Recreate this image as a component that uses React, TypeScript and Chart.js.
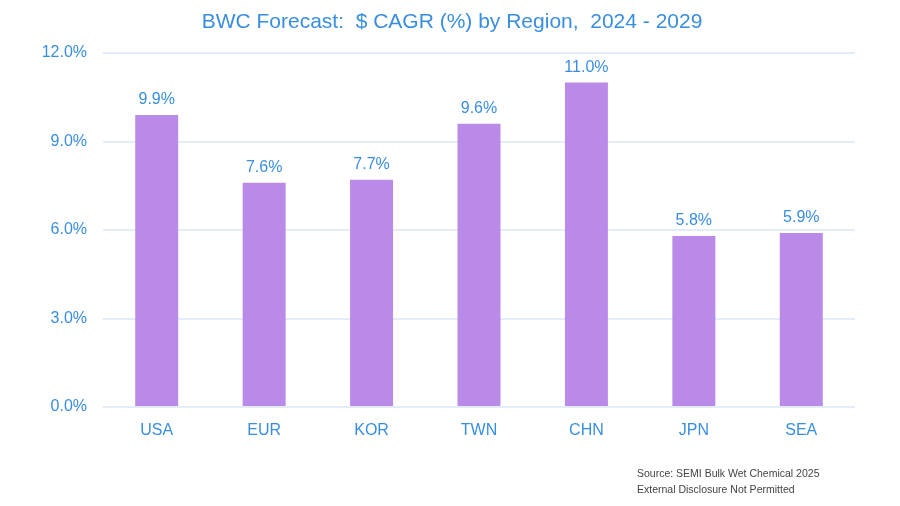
import React, { useEffect, useRef } from "react";
import { Chart, registerables } from "chart.js";

Chart.register(...registerables);

const regions = ["USA", "EUR", "KOR", "TWN", "CHN", "JPN", "SEA"];
const cagr = [9.9, 7.6, 7.7, 9.6, 11.0, 5.8, 5.9];
const yTicks = [0, 3, 6, 9, 12];
const titleText = "BWC Forecast:  $ CAGR (%) by Region,  2024 - 2029";
const sourceLines = ["Source: SEMI Bulk Wet Chemical 2025", "External Disclosure Not Permitted"];

const BLUE = "#3a8ee0";
const BAR = "#b98ae8";
const GRID = "#e2edf9";
const FONT = "'Liberation Sans', Arial, sans-serif";

const overlayPlugin = {
  id: "overlay",
  afterDatasetsDraw(chart: any) {
    const ctx = chart.ctx;
    const meta = chart.getDatasetMeta(0);
    ctx.save();
    ctx.fillStyle = BLUE;
    ctx.font = `16px ${FONT}`;
    ctx.textAlign = "center";
    ctx.textBaseline = "bottom";
    meta.data.forEach((bar: any, i: number) => {
      ctx.fillText(cagr[i].toFixed(1) + "%", bar.x, bar.y - 7);
    });
    // title
    ctx.font = `21px ${FONT}`;
    ctx.textBaseline = "middle";
    ctx.fillText(titleText, 452, 22);
    // source note
    ctx.fillStyle = "#444444";
    ctx.font = `10.5px ${FONT}`;
    ctx.textAlign = "left";
    ctx.fillText(sourceLines[0], 637, 474);
    ctx.fillText(sourceLines[1], 637, 490);
    ctx.restore();
  },
};

export default function App() {
  const ref = useRef<HTMLCanvasElement | null>(null);
  useEffect(() => {
    if (!ref.current) return;
    const chart = new Chart(ref.current, {
      type: "bar",
      data: {
        labels: regions,
        datasets: [
          {
            data: cagr,
            backgroundColor: BAR,
            barPercentage: 0.4,
            categoryPercentage: 1,
          },
        ],
      },
      options: {
        animation: false,
        responsive: false,
        devicePixelRatio: 1,
        layout: { padding: { top: 53, left: 0, right: 45, bottom: 39 } },
        plugins: {
          legend: { display: false },
          tooltip: { enabled: false },
          title: { display: false },
        },
        scales: {
          x: {
            grid: { display: false },
            border: { display: false },
            ticks: { color: BLUE, font: { family: FONT, size: 16 }, padding: 6 },
            afterFit: (s: any) => {
              s.height = 60;
            },
          },
          y: {
            min: 0,
            max: 12,
            afterBuildTicks: (s: any) => {
              s.ticks = yTicks.map((v) => ({ value: v }));
            },
            grid: { color: GRID, lineWidth: 2, drawTicks: false },
            border: { display: false },
            ticks: {
              color: BLUE,
              font: { family: FONT, size: 16 },
              padding: 16,
              callback: (v: any) => Number(v).toFixed(1) + "%",
            },
            afterFit: (s: any) => {
              s.width = 103;
            },
          },
        },
      },
      plugins: [overlayPlugin],
    });
    return () => chart.destroy();
  }, []);
  return (
    <div style={{ position: "fixed", left: 0, top: 0, width: 900, height: 506, background: "#fff" }}>
      <canvas ref={ref} width={900} height={506} style={{ width: 900, height: 506 }} />
    </div>
  );
}
